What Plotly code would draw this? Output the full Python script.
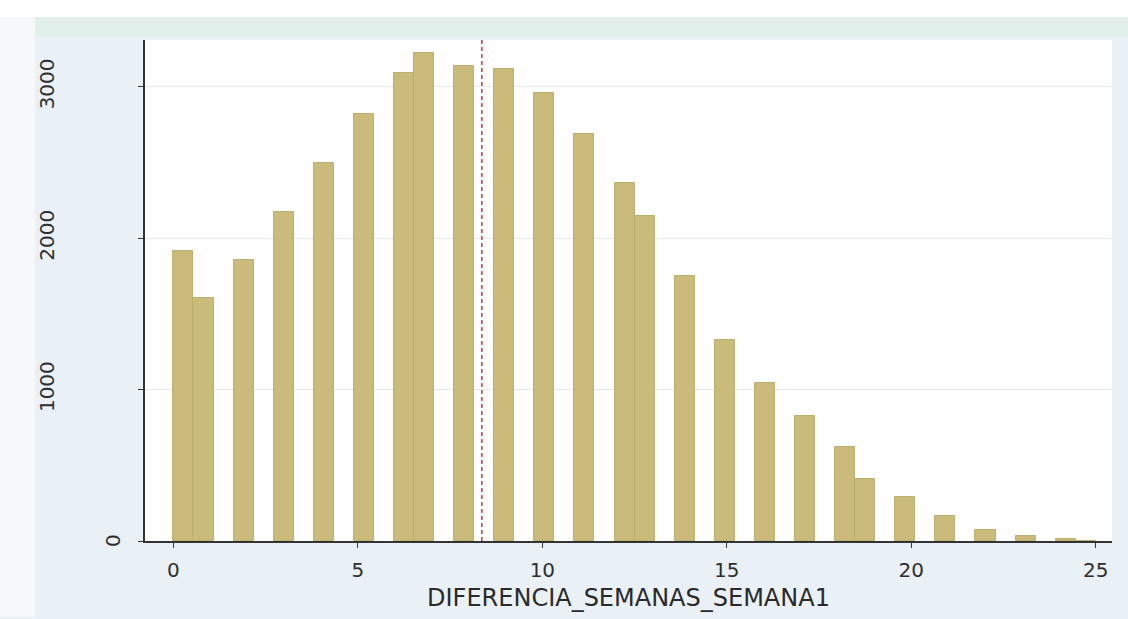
import math
import plotly.graph_objects as go

# ---- data ----
weeks = list(range(0, 26))
counts = [1916, 1605, 1857, 2173, 2500, 2822, 3092, 3226, 3138, 3116,
          2958, 2689, 2366, 2147, 1752, 1329, 1044, 823, 623, 410,
          294, 166, 74, 31, 10, 3]
mean_value = 8.36
x_ticks = [0, 5, 10, 15, 20, 25]
y_ticks = [0, 1000, 2000, 3000]
x_title = "DIFERENCIA_SEMANAS_SEMANA1"

# histogram binning (Stata style: 46 bins over [0, 25])
n_bins = 46
x_min, x_max = 0, 25
bin_w = (x_max - x_min) / n_bins
centers = []
for w in weeks:
    idx = min(int(math.floor((w - x_min) / bin_w)), n_bins - 1)
    centers.append(x_min + idx * bin_w + bin_w / 2)

fig = go.Figure()
fig.add_trace(go.Bar(
    x=centers, y=counts, width=bin_w,
    marker=dict(color="#cabb7a", line=dict(color="#bcae6c", width=1)),
    showlegend=False,
))

# mean line
fig.add_shape(type="line", xref="x", yref="paper", x0=mean_value, x1=mean_value,
              y0=0, y1=1, line=dict(color="#e0303a", width=1.5, dash="4px,3px"))

W, H = 1128, 619
ml, mr, mt, mb = 145, 16, 40, 76
pw, ph = W - ml - mr, H - mt - mb

def py(px):  # pixel y -> paper y
    return (H - mb - px) / ph

def px_(px):
    return (px - ml) / pw

# decorative background bands of the screenshot
fig.add_shape(type="rect", xref="paper", yref="paper", layer="below",
              x0=px_(0), x1=px_(W), y0=py(17), y1=py(0),
              fillcolor="#ffffff", line=dict(width=0))
fig.add_shape(type="rect", xref="paper", yref="paper", layer="below",
              x0=px_(35), x1=px_(W), y0=py(37), y1=py(17),
              fillcolor="#e2f0ec", line=dict(width=0))
fig.add_shape(type="rect", xref="paper", yref="paper", layer="below",
              x0=px_(0), x1=px_(35), y0=py(H), y1=py(17),
              fillcolor="#f6f8fa", line=dict(width=0))

label_font = dict(family="DejaVu Sans, Verdana, sans-serif", size=20, color="#2e2e2e")

# the zero label of the y axis sits next to the axis in the reference
y_ticktext = ["" if v == 0 else str(v) for v in y_ticks]
fig.add_annotation(x=px_(113), xref="paper", y=y_ticks[0], yref="y",
                   text=str(y_ticks[0]), textangle=-90, showarrow=False,
                   xanchor="center", yanchor="middle", font=label_font)

fig.update_layout(
    width=W, height=H,
    margin=dict(l=ml, r=mr, t=mt, b=mb),
    paper_bgcolor="#eaf1f6",
    plot_bgcolor="#ffffff",
    bargap=0,
    font=label_font,
    xaxis=dict(
        range=[-0.77, 25.44],
        tickvals=x_ticks, ticktext=[str(v) for v in x_ticks],
        ticks="outside", ticklen=5, tickcolor="#333333",
        showline=True, linecolor="#333333", linewidth=1.5,
        showgrid=False, zeroline=False,
        ticklabelstandoff=5,
        tickfont=label_font,
        title=dict(text=x_title, standoff=8,
                   font=dict(family="DejaVu Sans, Verdana, sans-serif", size=24, color="#2a2a2a")),
    ),
    yaxis=dict(
        range=[0, 3310],
        tickvals=y_ticks, ticktext=y_ticktext,
        tickangle=-90,
        ticks="outside", ticklen=5, tickcolor="#333333",
        showline=True, linecolor="#333333", linewidth=1.5,
        showgrid=True, gridcolor="#e8e8e8", gridwidth=1,
        zeroline=False,
        ticklabelstandoff=76,
        tickfont=label_font,
    ),
)

fig.write_html(
    "out.html",
    config={"displayModeBar": False},
    post_script="document.body.style.margin='0px';document.body.style.padding='0px';",
)
